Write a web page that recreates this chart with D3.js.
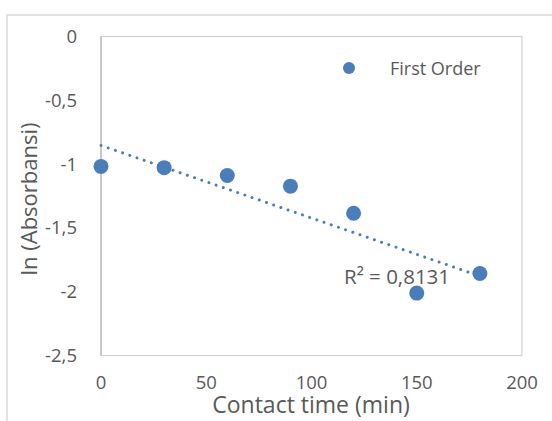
<!DOCTYPE html>
<html>
<head>
<meta charset="utf-8">
<script src="https://cdn.jsdelivr.net/npm/d3@7"></script>
<style>
  body { margin: 0; background: #fff; }
  text { font-family: "Open Sans", sans-serif; fill: #595959; }
</style>
</head>
<body>
<svg id="chart"></svg>
<script>
// data
const contactTime = [0, 30, 60, 90, 120, 150, 180];
const lnAbsorbance = [-1.018, -1.028, -1.089, -1.173, -1.385, -2.011, -1.857];
const xTicks = [0, 50, 100, 150, 200];
const yTicks = [0, -0.5, -1, -1.5, -2, -2.5];
const seriesName = 'First Order';
const rSquaredLabel = 'R² = 0,8131';

const width = 552, height = 421;
const plot = { left: 101, top: 36.5, right: 522, bottom: 355.5 };
const blue = '#4a7ebb';

const svg = d3.select('#chart')
    .attr('width', width)
    .attr('height', height);

// chart area border (runs off the right and bottom)
svg.append('rect')
    .attr('x', 7).attr('y', 15)
    .attr('width', 700).attr('height', 600)
    .attr('fill', '#fff')
    .attr('stroke', '#d9d9d9')
    .attr('stroke-width', 1.5);

const x = d3.scaleLinear().domain([0, 200]).range([plot.left, plot.right]);
const y = d3.scaleLinear().domain([-2.5, 0]).range([plot.bottom, plot.top]);

// plot area border
svg.append('rect')
    .attr('x', plot.left).attr('y', plot.top)
    .attr('width', plot.right - plot.left)
    .attr('height', plot.bottom - plot.top)
    .attr('fill', 'none')
    .attr('stroke', '#d0d0d0')
    .attr('stroke-width', 1.2);

// y axis line at x = 0
svg.append('line')
    .attr('x1', x(0)).attr('x2', x(0))
    .attr('y1', plot.top).attr('y2', plot.bottom)
    .attr('stroke', '#bfbfbf')
    .attr('stroke-width', 1.5);

const comma = d => d3.format('')(d).replace('.', ',').replace('−', '-');

// y tick labels
svg.append('g').selectAll('text')
    .data(yTicks)
    .enter().append('text')
    .attr('x', 77)
    .attr('y', d => y(d) + 6.5)
    .attr('text-anchor', 'end')
    .style('font-size', '18.5px')
    .text(comma);

// x tick labels
svg.append('g').selectAll('text')
    .data(xTicks)
    .enter().append('text')
    .attr('x', d => x(d))
    .attr('y', 389)
    .attr('text-anchor', 'middle')
    .style('font-size', '18.5px')
    .text(comma);

// axis titles
svg.append('text')
    .attr('x', 311)
    .attr('y', 413)
    .attr('text-anchor', 'middle')
    .style('font-size', '23px')
    .text('Contact time (min)');

svg.append('text')
    .attr('transform', `translate(37, 199) rotate(-90)`)
    .attr('text-anchor', 'middle')
    .style('font-size', '22px')
    .text('ln (Absorbansi)');

// linear trendline (least squares)
const mx = d3.mean(contactTime), my = d3.mean(lnAbsorbance);
let sxy = 0, sxx = 0;
contactTime.forEach((t, i) => {
    sxy += (t - mx) * (lnAbsorbance[i] - my);
    sxx += (t - mx) * (t - mx);
});
const slope = sxy / sxx;
const intercept = my - slope * mx;
const trendX = [d3.min(contactTime), d3.max(contactTime)];

svg.append('line')
    .attr('x1', x(trendX[0])).attr('y1', y(intercept + slope * trendX[0]))
    .attr('x2', x(trendX[1])).attr('y2', y(intercept + slope * trendX[1]))
    .attr('stroke', blue)
    .attr('stroke-width', 3)
    .attr('stroke-linecap', 'round')
    .attr('stroke-dasharray', '0.01 7.6');

// points
svg.append('g').selectAll('circle')
    .data(contactTime)
    .enter().append('circle')
    .attr('cx', d => x(d))
    .attr('cy', (d, i) => y(lnAbsorbance[i]))
    .attr('r', 7.5)
    .attr('fill', blue);

// R² label
svg.append('text')
    .attr('x', 344)
    .attr('y', 284)
    .style('font-size', '20.5px')
    .text(rSquaredLabel);

// legend
svg.append('circle')
    .attr('cx', 349).attr('cy', 68)
    .attr('r', 6)
    .attr('fill', blue);
svg.append('text')
    .attr('x', 390)
    .attr('y', 74.5)
    .style('font-size', '18px')
    .text(seriesName);
</script>
</body>
</html>
